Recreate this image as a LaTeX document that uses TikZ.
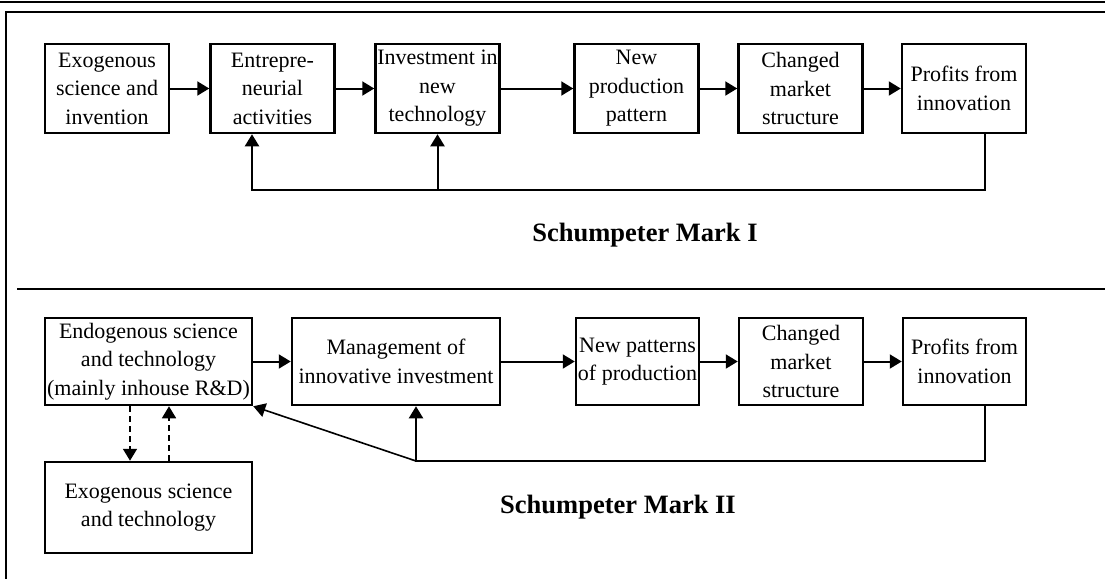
\documentclass[tikz,border=0pt]{standalone}
\usepackage{fontspec}
\setmainfont{Liberation Serif}
\usetikzlibrary{arrows.meta}
\begin{document}
\begin{tikzpicture}[x=1pt,y=-1pt,
  box/.style={draw,line width=2.5pt,inner sep=0pt,align=center,
    font=\fontsize{22}{28.5}\selectfont},
  conn/.style={line width=2pt},
  tip/.style={-{Triangle[length=12pt,width=14pt]}},
  title/.style={font=\fontsize{26.5}{30}\selectfont\bfseries},
  frame/.style={line width=2.8pt}]
\useasboundingbox (0,0) rectangle (1105,579);
% frame
\draw[frame] (0,2) -- (1105,2);
\draw[frame] (1105,12) -- (6,12) -- (6,579);
\draw[frame] (17,289) -- (1105,289);
% Mark I
\begin{scope}[every node/.append style={minimum width=124pt,minimum height=89pt}]
\node[box] (a1) at (107,88.5) {Exogenous\\science and\\invention};
\node[box] (a2) at (272.5,88.5) {Entrepre-\\neurial\\activities};
\node[box] (a3) at (437.5,88.5) {Investment in\\new\\technology};
\node[box] (a4) at (636.5,88.5) {New\\production\\pattern};
\node[box] (a5) at (800.5,88.5) {Changed\\market\\structure};
\node[box] (a6) at (964,88.5) {Profits from\\innovation};
\end{scope}
\foreach \p/\q in {a1/a2,a2/a3,a3/a4,a4/a5,a5/a6}
  \draw[conn,tip] (\p.east) -- (\q.west);
\coordinate (f1) at (985,190);
\coordinate (f2) at (252,190);
\draw[conn,tip] (a6.south -| f1) -- (f1) -- (f2) -- (a2.south -| f2);
\draw[conn,tip] (a3.south |- f1) -- (a3.south);
\node[title] (t1) at (645,235) {Schumpeter Mark I};
% Mark II
\begin{scope}[every node/.append style={minimum height=87pt}]
\node[box,minimum width=207pt] (b1) at (148.5,361.5) {Endogenous science\\and technology\\(mainly inhouse R\&D)};
\node[box,minimum width=208pt] (b2) at (396,361.5) {Management of\\innovative investment};
\node[box,minimum width=123pt] (b3) at (637.5,361.5) {New patterns\\of production};
\node[box,minimum width=124pt] (b4) at (801,361.5) {Changed\\market\\structure};
\node[box,minimum width=123pt] (b5) at (964.5,361.5) {Profits from\\innovation};
\end{scope}
\node[box,minimum width=207pt,minimum height=91pt] (b6) at (148.5,507.5) {Exogenous science\\and technology};
\foreach \p/\q in {b1/b2,b2/b3,b3/b4,b4/b5}
  \draw[conn,tip] (\p.east) -- (\q.west);
\coordinate (g1) at (985,461);
\coordinate (g2) at (416,461);
\draw[conn,tip] (b5.south -| g1) -- (g1) -- (g2) -- (b2.south -| g2);
\draw[line width=1.6pt,tip] (g2) -- (b1.south east);
\coordinate (d1) at (130,0);
\coordinate (d2) at (169,0);
\draw[line width=1.6pt,dash pattern=on 6pt off 4pt,tip] (b1.south -| d1) -- (b6.north -| d1);
\draw[line width=1.6pt,dash pattern=on 6pt off 4pt,tip] (b6.north -| d2) -- (b1.south -| d2);
\node[title] (t2) at (618,507) {Schumpeter Mark II};
\end{tikzpicture}
\end{document}
